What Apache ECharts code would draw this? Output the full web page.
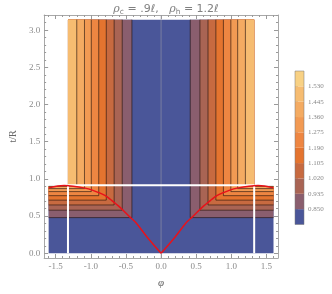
<!DOCTYPE html>
<html><head><meta charset="utf-8">
<script src="https://cdn.jsdelivr.net/npm/echarts@6/dist/echarts.min.js"></script>
<style>html,body{margin:0;padding:0;background:#fff}#c{width:332px;height:294px}</style>
</head><body><div id="c"></div>
<script>
// ---- data ----
const levels = [0.850, 0.935, 1.020, 1.105, 1.190, 1.275, 1.360, 1.445, 1.530];
const bandColors = ['#4a5699','#8a5e6e','#a96454','#c76a40','#e4742f','#ee8642','#f29a53','#f4ab62','#f6bc71','#f8d184'];
// |phi| where band k (1..8) starts (vertical contours)
const phiEdges = [0.415, 0.553, 0.668, 0.780, 0.887, 0.993, 1.090, 1.200];
// t/R where band k (1..8) starts (horizontal contours, lower part)
const tEdges = [0.480, 0.580, 0.650, 0.715, 0.775, 0.830, 0.870, 0.900];
const phiMax = 1.6, phiCut = 1.325, tSplit = 0.915, tOuterTop = 0.9, tMax = 3.1416;
// red curve (symmetric)
const curvePhi = [0, 0.2, 0.357, 0.446, 0.58, 0.714, 0.8, 0.98, 1.1, 1.25, 1.38, 1.47, 1.6];
const curveT   = [0, 0.22, 0.41, 0.49, 0.615, 0.72, 0.78, 0.85, 0.88, 0.903, 0.912, 0.906, 0.88];
// ticks
const xMajor = [-1.5, -1.0, -0.5, 0, 0.5, 1.0, 1.5];
const xMinor = [-1.6,-1.4,-1.3,-1.2,-1.1,-0.9,-0.8,-0.7,-0.6,-0.4,-0.3,-0.2,-0.1,0.1,0.2,0.3,0.4,0.6,0.7,0.8,0.9,1.1,1.2,1.3,1.4,1.6];
const yMajor = [0, 0.5, 1.0, 1.5, 2.0, 2.5, 3.0];
const yMinor = [0.1,0.2,0.3,0.4,0.6,0.7,0.8,0.9,1.1,1.2,1.3,1.4,1.6,1.7,1.8,1.9,2.1,2.2,2.3,2.4,2.6,2.7,2.8,2.9,3.1,3.2];
const cbTicks = [1,2,3,4,5,6,7,8,9];
const xMin = -1.664, xMax = 1.664, yMin = -0.063, yMax = 3.204;

// ---- build fill rectangles [x0,x1,y0,y1,colorIndex] ----
const rects = [];
rects.push([-phiCut, phiCut, 0, tMax, 0]);
rects.push([-phiMax, -phiCut, 0, tOuterTop, 0]);
rects.push([phiCut, phiMax, 0, tOuterTop, 0]);
phiEdges.forEach((pe, i) => {
  const te = tEdges[i];
  rects.push([-phiCut, -pe, te, tMax, i + 1]);
  rects.push([pe, phiCut, te, tMax, i + 1]);
  if (te < tOuterTop) {
    rects.push([-phiMax, -phiCut, te, tOuterTop, i + 1]);
    rects.push([phiCut, phiMax, te, tOuterTop, i + 1]);
  }
});
const contourItems = [];
phiEdges.forEach((pe, i) => { contourItems.push([-1, i]); contourItems.push([1, i]); });

const frameColor = '#a8a8a8';
const tickStyle = {color: '#9a9a9a', width: 1};
const labelStyle = {color: '#8a8a8a', fontFamily: 'Liberation Serif', fontSize: 9};
const fmt1 = v => (Math.round(v * 10) / 10).toFixed(1);

function xAx(pos, major) {
  return {
    gridIndex: 0, type: 'value', min: xMin, max: xMax, position: pos,
    axisLine: {show: major, onZero: false, lineStyle: {color: frameColor, width: 1}},
    axisTick: {show: true, inside: true, length: major ? 4 : 2, customValues: major ? xMajor : xMinor, lineStyle: tickStyle},
    axisLabel: (major && pos === 'bottom') ? Object.assign({customValues: xMajor, formatter: fmt1, margin: 4}, labelStyle) : {show: false},
    splitLine: {show: false},
    name: (major && pos === 'bottom') ? 'φ' : '',
    nameLocation: 'middle', nameGap: 20,
    nameTextStyle: {fontFamily: 'Liberation Serif', fontStyle: 'italic', fontSize: 11, color: '#666'}
  };
}
function yAx(pos, major) {
  return {
    gridIndex: 0, type: 'value', min: yMin, max: yMax, position: pos,
    axisLine: {show: major, onZero: false, lineStyle: {color: frameColor, width: 1}},
    axisTick: {show: true, inside: true, length: major ? 4 : 2, customValues: major ? yMajor : yMinor, lineStyle: tickStyle},
    axisLabel: (major && pos === 'left') ? Object.assign({customValues: yMajor, formatter: fmt1, margin: 4}, labelStyle) : {show: false},
    splitLine: {show: false},
    name: (major && pos === 'left') ? 't/R' : '',
    nameLocation: 'middle', nameGap: 15, nameRotate: 90,
    nameTextStyle: {fontFamily: 'Liberation Serif', fontSize: 10, color: '#666'}
  };
}

const chart = echarts.init(document.getElementById('c'), null, {renderer: 'canvas'});
chart.setOption({
  animation: false,
  backgroundColor: '#fff',
  title: {
    left: 'center', top: -2,
    text: '{i|ρ}{s|c}{n| = .9ℓ,   }{i|ρ}{s|h}{n| = 1.2ℓ}',
    textStyle: {
      fontWeight: 'normal',
      rich: {
        i: {fontFamily: 'DejaVu Serif', fontStyle: 'italic', fontWeight: 'normal', fontSize: 11, color: '#808080'},
        s: {fontFamily: 'DejaVu Sans', fontWeight: 'normal', fontSize: 7.5, color: '#808080', padding: [5, 0, 0, 0]},
        n: {fontFamily: 'DejaVu Sans', fontWeight: 'normal', fontSize: 11, color: '#808080'}
      }
    }
  },
  grid: [
    {left: 29, right: 54, top: 15, bottom: 30},
    {left: 295, width: 9, top: 71, height: 153.5}
  ],
  xAxis: [
    xAx('bottom', true), xAx('bottom', false), xAx('top', true), xAx('top', false),
    {gridIndex: 1, type: 'value', min: 0, max: 1, show: false}
  ],
  yAxis: [
    yAx('left', true), yAx('left', false), yAx('right', true), yAx('right', false),
    {gridIndex: 1, type: 'value', min: 0, max: 10, position: 'right',
     axisLine: {show: false},
     axisTick: {show: true, length: 3, customValues: cbTicks, lineStyle: {color: '#aaa'}},
     axisLabel: {customValues: cbTicks, formatter: v => levels[Math.round(v) - 1].toFixed(3), margin: 4,
                 color: '#8a8a8a', fontFamily: 'Liberation Serif', fontSize: 7},
     splitLine: {show: false}}
  ],
  series: [
    {
      type: 'custom', xAxisIndex: 0, yAxisIndex: 0, silent: true,
      encode: {x: [0, 1], y: [2, 3]},
      data: rects,
      renderItem: (params, api) => {
        const x0 = api.value(0), x1 = api.value(1), y0 = api.value(2), y1 = api.value(3), c = api.value(4);
        const a = api.coord([x0, y1]), b = api.coord([x1, y0]);
        return {type: 'rect', shape: {x: a[0], y: a[1], width: b[0] - a[0], height: b[1] - a[1]},
                style: {fill: bandColors[c]}};
      }
    },
    {
      type: 'line', xAxisIndex: 0, yAxisIndex: 0, silent: true, showSymbol: false,
      data: [[0, yMin], [0, yMax]],
      lineStyle: {color: 'rgba(160,160,170,0.55)', width: 1}
    },
    {
      type: 'custom', xAxisIndex: 0, yAxisIndex: 0, silent: true,
      encode: {x: 0, y: 1},
      data: contourItems,
      renderItem: (params, api) => {
        const s = api.value(0), i = api.value(1);
        const pts = [
          api.coord([s * phiMax, tEdges[i]]),
          api.coord([s * phiEdges[i], tEdges[i]]),
          api.coord([s * phiEdges[i], tMax])
        ];
        return {type: 'polyline', shape: {points: pts},
                style: {fill: null, stroke: 'rgba(35,18,12,0.62)', lineWidth: 1}};
      }
    },
    {
      type: 'line', xAxisIndex: 0, yAxisIndex: 0, silent: true, showSymbol: false,
      data: [[-phiCut, 0], [-phiCut, tSplit], [phiCut, tSplit], [phiCut, 0]],
      lineStyle: {color: '#ffffff', width: 2}
    },
    {
      type: 'line', xAxisIndex: 0, yAxisIndex: 0, silent: true, showSymbol: false, smooth: 0.35,
      data: curvePhi.map((p, j) => [-p, curveT[j]]),
      lineStyle: {color: '#e8121a', width: 1.5}
    },
    {
      type: 'line', xAxisIndex: 0, yAxisIndex: 0, silent: true, showSymbol: false, smooth: 0.35,
      data: curvePhi.map((p, j) => [p, curveT[j]]),
      lineStyle: {color: '#e8121a', width: 1.5}
    },
    {
      type: 'custom', xAxisIndex: 4, yAxisIndex: 4, silent: true,
      encode: {y: 0},
      data: bandColors.map((c, i) => [i]),
      renderItem: (params, api) => {
        const i = api.value(0);
        const a = api.coord([0, i + 1]), b = api.coord([1, i]);
        const children = [{type: 'rect', shape: {x: a[0], y: a[1], width: b[0] - a[0], height: b[1] - a[1]},
                           style: {fill: bandColors[i]}}];
        if (i === bandColors.length - 1) {
          const t = api.coord([0, bandColors.length]), u = api.coord([1, 0]);
          children.push({type: 'rect', shape: {x: t[0], y: t[1], width: u[0] - t[0], height: u[1] - t[1]},
                         style: {fill: null, stroke: 'rgba(120,120,120,0.5)', lineWidth: 1}});
        }
        return {type: 'group', children};
      }
    }
  ]
});
</script>
</body></html>
